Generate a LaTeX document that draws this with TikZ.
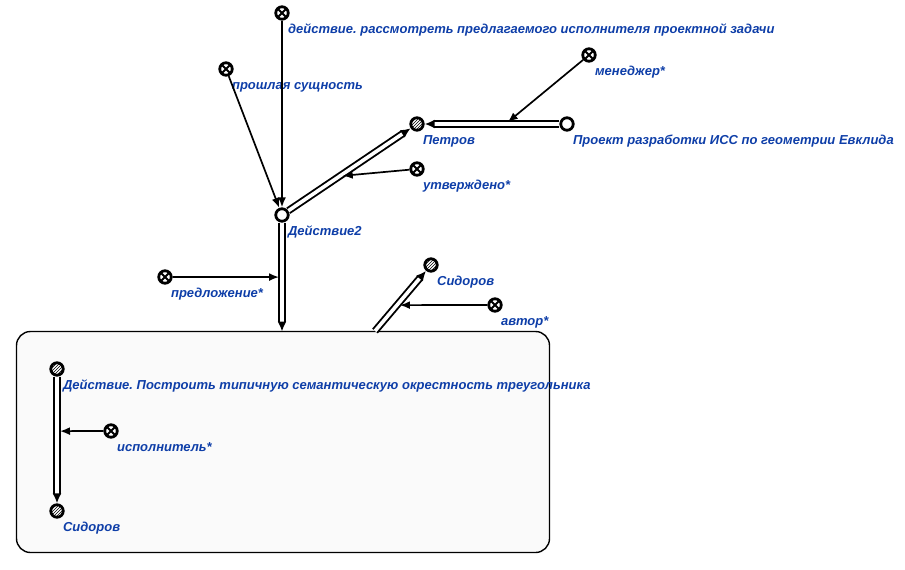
\documentclass[tikz,border=0pt]{standalone}
\usepackage{fontspec}
\setmainfont{Liberation Sans}
\frenchspacing
\usetikzlibrary{arrows.meta,patterns}
\definecolor{scblue}{RGB}{14,62,168}
\tikzset{
  elem/.style={circle, draw, line width=2.8pt, minimum size=12.5pt, inner sep=0pt},
  strnode/.style={elem, fill=white},
  rolenode/.style={elem, fill=white, path picture={
      \draw[line width=1.8pt] (path picture bounding box.north west) -- (path picture bounding box.south east)
        (path picture bounding box.north east) -- (path picture bounding box.south west);}},
  hatchnode/.style={elem, preaction={fill=white}, pattern=north east lines},
  lbl/.style={anchor=base west, inner sep=0pt, xshift=0.5pt, yshift=-15pt, text=scblue,
    font=\bfseries\itshape\fontsize{13}{15}\selectfont},
  pairarc/.style={double, double distance=3.6pt, line width=1.9pt, -{Latex[length=10pt,width=9pt]}},
  rolearc/.style={line width=1.7pt, -{Latex[length=10pt,width=8pt]}},
}
\begin{document}
\begin{tikzpicture}[x=1pt, y=-1pt]
  \useasboundingbox (0,0) rectangle (905,570);
  % structure frame
  \node[draw, line width=1.4pt, rounded corners=14pt, fill=black!2, minimum width=533pt,
    minimum height=221pt, outer sep=0pt] (frame) at (283,442) {};
  % elements
  \node[rolenode, label={[lbl]-45:действие. рассмотреть предлагаемого исполнителя проектной задачи}] (task) at (282,13) {};
  \node[rolenode, label={[lbl]-45:прошлая сущность}] (past) at (226,69) {};
  \node[strnode, label={[lbl]-45:Действие2}] (d2) at (282,215) {};
  \node[hatchnode, label={[lbl]-45:Петров}] (petrov) at (417,124) {};
  \node[strnode, label={[lbl]-45:Проект разработки ИСС по геометрии Евклида}] (proj) at (567,124) {};
  \node[rolenode, label={[lbl]-45:менеджер*}] (manager) at (589,55) {};
  \node[rolenode, label={[lbl]-45:утверждено*}] (approved) at (417,169) {};
  \node[rolenode, label={[lbl]-45:предложение*}] (proposal) at (165,277) {};
  \node[hatchnode, label={[lbl]-45:Сидоров}] (sid1) at (431,265) {};
  \node[rolenode, label={[lbl]-45:автор*}] (author) at (495,305) {};
  % inside the frame
  \node[hatchnode, label={[lbl]-45:Действие. Построить типичную семантическую окрестность треугольника}] (deed) at (57,369) {};
  \node[rolenode, label={[lbl]-45:исполнитель*}] (performer) at (111,431) {};
  \node[hatchnode, label={[lbl]-45:Сидоров}] (sid2) at (57,511) {};
  \coordinate (in) at (d2 |- frame.north);
  \coordinate (out) at (375,331);
  % arcs
  \draw[rolearc] (task) -- (d2);
  \draw[rolearc] (past) -- (d2);
  \draw[pairarc] (d2) -- coordinate[pos=0.42] (m1) (petrov);
  \draw[rolearc, shorten >=3pt] (approved) -- (m1);
  \draw[pairarc] (proj) -- coordinate[pos=0.4] (m2) (petrov);
  \draw[rolearc, shorten >=3pt] (manager) -- (m2);
  \draw[pairarc] (d2) -- coordinate[pos=0.5] (m3) (in);
  \draw[rolearc, shorten >=3pt] (proposal) -- (m3);
  \draw[pairarc] (out) -- coordinate[pos=0.43] (m4) (sid1);
  \draw[rolearc, shorten >=3pt] (author) -- (m4);
  \draw[pairarc] (deed) -- coordinate[pos=0.43] (m5) (sid2);
  \draw[rolearc, shorten >=3pt] (performer) -- (m5);
\end{tikzpicture}
\end{document}
